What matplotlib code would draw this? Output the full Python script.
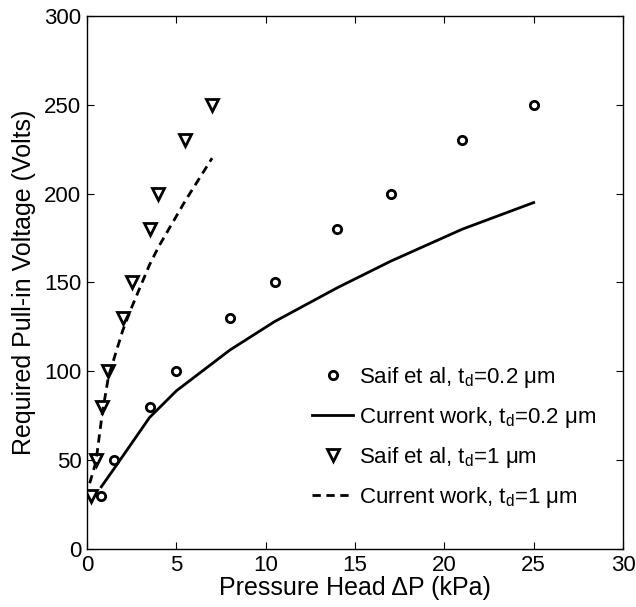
import matplotlib
matplotlib.use("Agg")
import matplotlib.pyplot as plt

plt.rcParams['font.family'] = ['Liberation Sans', 'DejaVu Sans']
plt.rcParams['mathtext.fontset'] = 'custom'
plt.rcParams['mathtext.rm'] = 'Liberation Sans'
plt.rcParams['mathtext.it'] = 'Liberation Sans:italic'

# Saif et al, td = 0.2 um
p_saif_02 = [0.8, 1.5, 3.5, 5, 8, 10.5, 14, 17, 21, 25]
v_saif_02 = [30, 50, 80, 100, 130, 150, 180, 200, 230, 250]

# current work, td = 0.2 um
p_cur_02 = [0.8, 1.5, 3.5, 5, 8, 10.5, 14, 17, 21, 25]
v_cur_02 = [35, 45, 74, 89, 112, 128, 147, 162, 180, 195]

# Saif et al, td = 1 um
p_saif_1 = [0.2, 0.5, 0.85, 1.2, 2, 2.5, 3.5, 4, 5.5, 7]
v_saif_1 = [30, 50, 80, 100, 130, 150, 180, 200, 230, 250]

# current work, td = 1 um
p_cur_1 = [0.15, 0.5, 0.85, 1.2, 2, 2.5, 3.5, 4, 5.5, 7]
v_cur_1 = [37, 49, 76, 97, 123, 136, 160, 170, 196, 220]

fig = plt.figure(figsize=(6.36, 6.07), dpi=100)
ax = fig.add_axes([0.1368, 0.0956, 0.8428, 0.878])

ax.plot(p_saif_02, v_saif_02, 'o', color='k', mfc='none', mew=2, ms=6,
        label=r'Saif et al, t$_{\rm d}$=0.2 μm')
ax.plot(p_cur_02, v_cur_02, '-', color='k', lw=2,
        label=r'Current work, t$_{\rm d}$=0.2 μm')
ax.plot(p_saif_1, v_saif_1, 'v', color='k', mfc='none', mew=2, ms=8,
        label=r'Saif et al, t$_{\rm d}$=1 μm')
ax.plot(p_cur_1, v_cur_1, '--', color='k', lw=2, dashes=(3, 2),
        label=r'Current work, t$_{\rm d}$=1 μm')

ax.set_xlim(0, 30)
ax.set_ylim(0, 300)
ax.set_xticks(range(0, 31, 5))
ax.set_yticks(range(0, 301, 50))
ax.tick_params(direction='in', top=True, right=True, labelsize=16, length=5, pad=4)
for s in ax.spines.values():
    s.set_linewidth(1)

ax.set_xlabel('Pressure Head ΔP (kPa)', fontsize=18, labelpad=0)
ax.set_ylabel('Required Pull-in Voltage (Volts)', fontsize=18, labelpad=6)

ax.legend(loc='upper left', bbox_to_anchor=(0.42, 0.346), frameon=False,
          fontsize=16, handlelength=1.85, handletextpad=0.27,
          labelspacing=0.68, borderpad=0, borderaxespad=0)

fig.savefig('out.png', dpi=100)
